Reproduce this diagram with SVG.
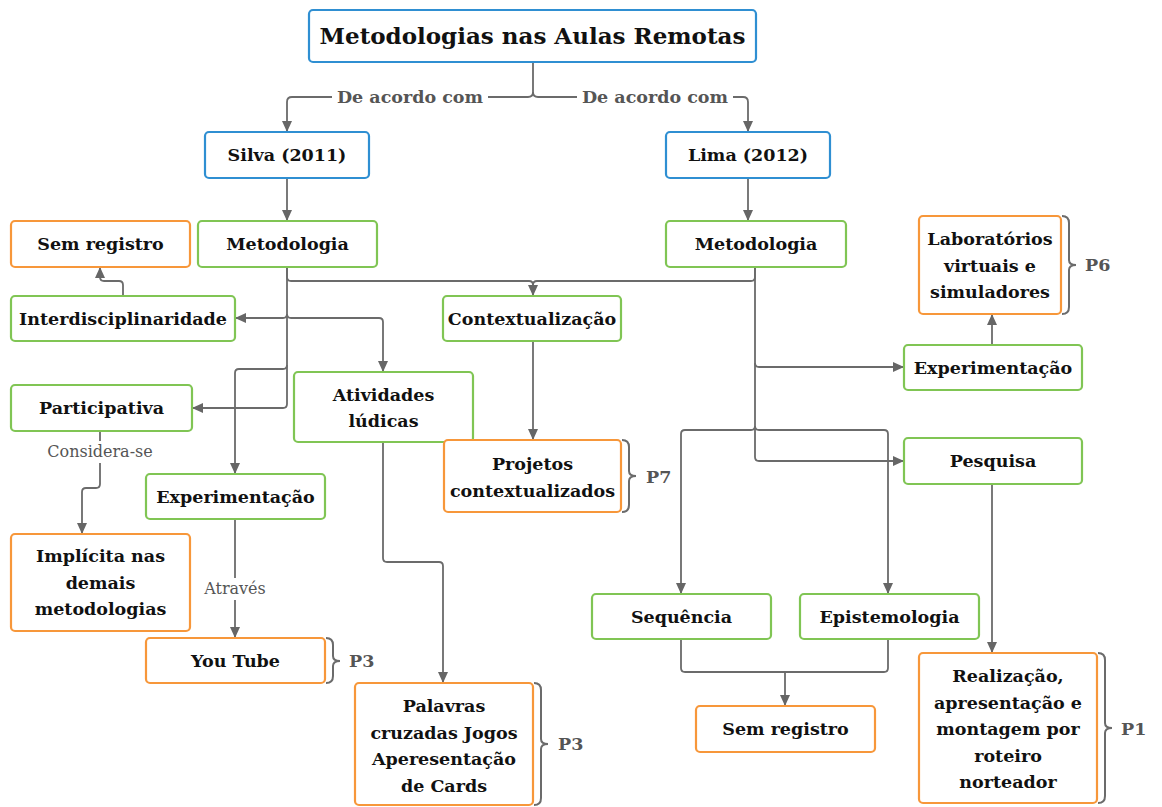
<svg xmlns="http://www.w3.org/2000/svg" width="1162" height="807" viewBox="0 0 1162 807">
<defs>
<marker id="ah" markerWidth="11" markerHeight="10" refX="11" refY="5" orient="auto" markerUnits="userSpaceOnUse"><path d="M0,0 L11,5 L0,10 z" fill="#666"/></marker>
<style>
.b{fill:#fff;stroke-width:2.2}
.blue{stroke:#2f8fd2}
.green{stroke:#80c554}
.orange{stroke:#f7973a}
.t{font-family:'DejaVu Serif',serif;font-weight:bold;font-size:17.5px;fill:#111;text-anchor:middle}
.title{font-size:23px}
.c{fill:none;stroke:#6b6b6b;stroke-width:1.8}
.a{marker-end:url(#ah)}
.lbl{font-family:'DejaVu Serif',serif;fill:#555;text-anchor:middle}
.big{font-size:17.5px;font-weight:bold}
.small{font-size:16px}
.br{fill:none;stroke:#6b6b6b;stroke-width:2}
.p{font-family:'DejaVu Serif',serif;font-weight:bold;font-size:17.5px;fill:#555}
</style>
</defs>
<rect width="1162" height="807" fill="#fff"/>
<g id="connectors">
<path class="c a" d="M533,62 V92 Q533,97 528,97 H292 Q287,97 287,102 V132"/>
<path class="c a" d="M533,92 Q533,97 538,97 H743 Q748,97 748,102 V132"/>
<path class="c a" d="M287,178 V221"/>
<path class="c a" d="M748,178 V221"/>
<path class="c a" d="M287,267 V277 Q287,281 291,281 H529 Q533,281 533,285 V296"/>
<path class="c" d="M755,267 V277 Q755,281 751,281 H537 Q533,281 533,285"/>
<path class="c a" d="M287,267 V404 Q287,408 283,408 H192"/>
<path class="c a" d="M287,314 Q287,318 283,318 H235"/>
<path class="c a" d="M287,314 Q287,318 291,318 H379 Q383,318 383,322 V372"/>
<path class="c a" d="M287,365 Q287,369 283,369 H239 Q235,369 235,373 V474"/>
<path class="c a" d="M123,296 V285 Q123,281 119,281 H104 Q100,281 100,277 V267"/>
<path class="c a" d="M100,431 V484 Q100,488 96,488 H86 Q82,488 82,492 V534"/>
<path class="c a" d="M235,519 V638"/>
<path class="c a" d="M383,442 V558 Q383,562 387,562 H439 Q443,562 443,566 V683"/>
<path class="c a" d="M533,341 V440"/>
<path class="c a" d="M755,267 V457 Q755,461 759,461 H904"/>
<path class="c a" d="M755,363 Q755,367 759,367 H904"/>
<path class="c a" d="M755,426 Q755,430 751,430 H685 Q681,430 681,434 V594"/>
<path class="c a" d="M755,426 Q755,430 759,430 H884 Q888,430 888,434 V594"/>
<path class="c a" d="M992,345 V314"/>
<path class="c a" d="M992,484 V653"/>
<path class="c" d="M681,639 V668 Q681,672 685,672 H884 Q888,672 888,668 V639"/>
<path class="c a" d="M785,672 V706"/>
<rect x="332" y="86" width="156" height="22" fill="#fff"/>
<text class="lbl big" x="410" y="103">De acordo com</text>
<rect x="577" y="86" width="156" height="22" fill="#fff"/>
<text class="lbl big" x="655" y="103">De acordo com</text>
<rect x="43" y="441" width="115" height="22" fill="#fff"/>
<text class="lbl small" x="100" y="457">Considera-se</text>
<rect x="199" y="578" width="72" height="22" fill="#fff"/>
<text class="lbl small" x="235" y="594">Através</text>
</g>
<g id="n-title"><rect class="b blue" x="309" y="10" width="447" height="52" rx="4"/><text class="t title" x="532.5" y="44">Metodologias nas Aulas Remotas</text></g>
<g id="n-silva"><rect class="b blue" x="205" y="132" width="164" height="46" rx="4"/><text class="t" x="287" y="161">Silva (2011)</text></g>
<g id="n-lima"><rect class="b blue" x="666" y="132" width="164" height="46" rx="4"/><text class="t" x="748" y="161">Lima (2012)</text></g>
<g id="n-semreg1"><rect class="b orange" x="11" y="221" width="179" height="46" rx="4"/><text class="t" x="100.5" y="250">Sem registro</text></g>
<g id="n-met1"><rect class="b green" x="198" y="221" width="179" height="46" rx="4"/><text class="t" x="287.5" y="250">Metodologia</text></g>
<g id="n-met2"><rect class="b green" x="666" y="221" width="180" height="46" rx="4"/><text class="t" x="756" y="250">Metodologia</text></g>
<g id="n-lab"><rect class="b orange" x="919" y="216" width="142" height="98" rx="4"/><text class="t" x="990" y="245">Laboratórios<tspan x="990" dy="26.5">virtuais e</tspan><tspan x="990" dy="26.5">simuladores</tspan></text>
<path class="br" d="M1062,216 Q1069,216 1069,223 V260 Q1069,265 1076,265 Q1069,265 1069,270 V307 Q1069,314 1062,314"/><text class="p" x="1085" y="271">P6</text></g>
<g id="n-interd"><rect class="b green" x="11" y="296" width="224" height="45" rx="4"/><text class="t" x="123" y="325">Interdisciplinaridade</text></g>
<g id="n-context"><rect class="b green" x="443" y="296" width="178" height="45" rx="4"/><text class="t" x="532" y="325">Contextualização</text></g>
<g id="n-exp2"><rect class="b green" x="904" y="345" width="178" height="45" rx="4"/><text class="t" x="993" y="374">Experimentação</text></g>
<g id="n-partic"><rect class="b green" x="11" y="385" width="181" height="46" rx="4"/><text class="t" x="101.5" y="414">Participativa</text></g>
<g id="n-ativ"><rect class="b green" x="294" y="372" width="179" height="70" rx="4"/><text class="t" x="383.5" y="401">Atividades<tspan x="383.5" dy="26">lúdicas</tspan></text></g>
<g id="n-proj"><rect class="b orange" x="444" y="440" width="177" height="72" rx="4"/><text class="t" x="532.5" y="470">Projetos<tspan x="532.5" dy="26.5">contextualizados</tspan></text>
<path class="br" d="M622,440 Q629,440 629,447 V471 Q629,476 636,476 Q629,476 629,481 V505 Q629,512 622,512"/><text class="p" x="646" y="483">P7</text></g>
<g id="n-pesq"><rect class="b green" x="904" y="438" width="178" height="46" rx="4"/><text class="t" x="993" y="467">Pesquisa</text></g>
<g id="n-exp1"><rect class="b green" x="146" y="474" width="179" height="45" rx="4"/><text class="t" x="235.5" y="503">Experimentação</text></g>
<g id="n-impl"><rect class="b orange" x="11" y="534" width="179" height="97" rx="4"/><text class="t" x="100.5" y="562">Implícita nas<tspan x="100.5" dy="26.5">demais</tspan><tspan x="100.5" dy="26.5">metodologias</tspan></text></g>
<g id="n-seq"><rect class="b green" x="592" y="594" width="179" height="45" rx="4"/><text class="t" x="681.5" y="623">Sequência</text></g>
<g id="n-epist"><rect class="b green" x="800" y="594" width="179" height="45" rx="4"/><text class="t" x="889.5" y="623">Epistemologia</text></g>
<g id="n-youtube"><rect class="b orange" x="146" y="638" width="179" height="45" rx="4"/><text class="t" x="235.5" y="667">You Tube</text>
<path class="br" d="M326,638 Q333,638 333,645 V656 Q333,661 340,661 Q333,661 333,666 V676 Q333,683 326,683"/><text class="p" x="349" y="667">P3</text></g>
<g id="n-palavras"><rect class="b orange" x="355" y="683" width="178" height="122" rx="4"/><text class="t" x="444" y="712">Palavras<tspan x="444" dy="26.7">cruzadas Jogos</tspan><tspan x="444" dy="26.7">Aperesentação</tspan><tspan x="444" dy="26.7">de Cards</tspan></text>
<path class="br" d="M534,683 Q541,683 541,690 V739 Q541,744 548,744 Q541,744 541,749 V798 Q541,805 534,805"/><text class="p" x="558" y="750">P3</text></g>
<g id="n-semreg2"><rect class="b orange" x="696" y="706" width="179" height="46" rx="4"/><text class="t" x="785.5" y="735">Sem registro</text></g>
<g id="n-realiz"><rect class="b orange" x="919" y="653" width="178" height="150" rx="4"/><text class="t" x="1008" y="682">Realização,<tspan x="1008" dy="26.5">apresentação e</tspan><tspan x="1008" dy="26.5">montagem por</tspan><tspan x="1008" dy="26.5">roteiro</tspan><tspan x="1008" dy="26.5">norteador</tspan></text>
<path class="br" d="M1098,653 Q1105,653 1105,660 V723 Q1105,728 1112,728 Q1105,728 1105,733 V796 Q1105,803 1098,803"/><text class="p" x="1121" y="735">P1</text></g>
</svg>
